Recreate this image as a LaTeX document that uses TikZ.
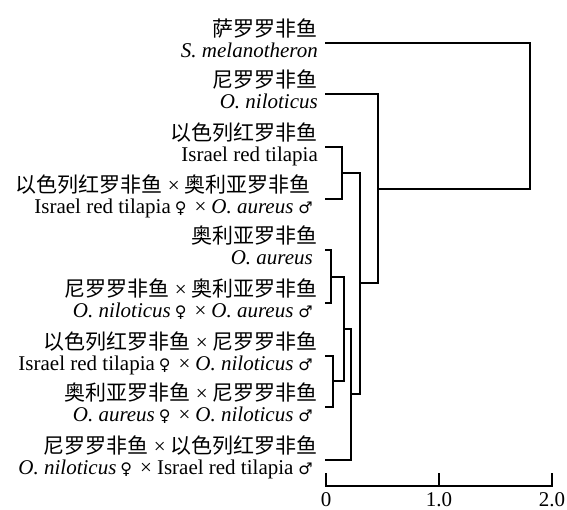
\documentclass[tikz,border=0pt]{standalone}
\usepackage{fontspec}
\setmainfont{Liberation Serif}
\newfontfamily\cjk{Noto Sans CJK SC}
\newfontfamily\sym{DejaVu Sans}
\usetikzlibrary{positioning}

\tikzset{
  branch/.style={line width=2pt},
  cnlabel/.style={anchor=base east, inner sep=0pt, font=\cjk\fontsize{21}{21}\selectfont},
  lalabel/.style={anchor=base east, inner sep=0pt, font=\fontsize{21}{21}\selectfont},
  numlabel/.style={anchor=base, inner sep=0pt, text depth=0pt, font=\fontsize{21}{21}\selectfont},
}
\newcommand{\crs}{\hspace{5pt}{\fontfamily{\rmdefault}\selectfont ×}\hspace{5pt}}
\newcommand{\xx}{\hspace{8pt}×\hspace{5pt}}
\newcommand{\fem}{\hspace{4pt}{\sym\fontsize{16}{16}\selectfont ♀}}
\newcommand{\mal}{\hspace{5pt}{\sym\fontsize{16}{16}\selectfont ♂}}

\begin{document}
\begin{tikzpicture}[x=1pt, y=-1pt]
    \useasboundingbox (0,0) rectangle (567,509);

    % leaf tips
    \coordinate (t1) at (325,43);
    \coordinate (t2) at (325,94);
    \coordinate (t3) at (325,147);
    \coordinate (t4) at (325,199);
    \coordinate (t5) at (325,250);
    \coordinate (t6) at (325,303);
    \coordinate (t7) at (325,356);
    \coordinate (t8) at (325,407);
    \coordinate (t9) at (325,460);

    % labels
    \node[cnlabel] (cn1) at ([xshift=-7pt, yshift=7pt]t1) {萨罗罗非鱼};
    \node[lalabel] (la1) at ([xshift=-7pt, yshift=-14pt]t1) {\textit{S. melanotheron}};
    \node[cnlabel] (cn2) at ([xshift=-7pt, yshift=7pt]t2) {尼罗罗非鱼};
    \node[lalabel] (la2) at ([xshift=-7pt, yshift=-14pt]t2) {\textit{O. niloticus}};
    \node[cnlabel] (cn3) at ([xshift=-7pt, yshift=7pt]t3) {以色列红罗非鱼};
    \node[lalabel] (la3) at ([xshift=-7pt, yshift=-14pt]t3) {Israel red tilapia};
    \node[cnlabel] (cn4) at ([xshift=-14pt, yshift=7pt]t4) {以色列红罗非鱼\crs 奥利亚罗非鱼};
    \node[lalabel] (la4) at ([xshift=-12pt, yshift=-14pt]t4) {Israel red tilapia\fem\xx\textit{O. aureus}\mal};
    \node[cnlabel] (cn5) at ([xshift=-7pt, yshift=7pt]t5) {奥利亚罗非鱼};
    \node[lalabel] (la5) at ([xshift=-12pt, yshift=-14pt]t5) {\textit{O. aureus}};
    \node[cnlabel] (cn6) at ([xshift=-7pt, yshift=7pt]t6) {尼罗罗非鱼\crs 奥利亚罗非鱼};
    \node[lalabel] (la6) at ([xshift=-12pt, yshift=-14pt]t6) {\textit{O. niloticus}\fem\xx\textit{O. aureus}\mal};
    \node[cnlabel] (cn7) at ([xshift=-7pt, yshift=7pt]t7) {以色列红罗非鱼\crs 尼罗罗非鱼};
    \node[lalabel] (la7) at ([xshift=-12pt, yshift=-14pt]t7) {Israel red tilapia\fem\xx\textit{O. niloticus}\mal};
    \node[cnlabel] (cn8) at ([xshift=-7pt, yshift=7pt]t8) {奥利亚罗非鱼\crs 尼罗罗非鱼};
    \node[lalabel] (la8) at ([xshift=-12pt, yshift=-14pt]t8) {\textit{O. aureus}\fem\xx\textit{O. niloticus}\mal};
    \node[cnlabel] (cn9) at ([xshift=-7pt, yshift=7pt]t9) {尼罗罗非鱼\crs 以色列红罗非鱼};
    \node[lalabel] (la9) at ([xshift=-12pt, yshift=-14pt]t9) {\textit{O. niloticus}\fem\xx Israel red tilapia\mal};

    % merge points
    \coordinate (mIsr) at (342,173);
    \coordinate (mE) at (331,277);
    \coordinate (mF) at (333,381);
    \coordinate (mD) at (344,329);
    \coordinate (mC) at (351,394);
    \coordinate (mB) at (360,283);
    \coordinate (mA) at (378,189);
    \coordinate (mR) at (530,116);

    \draw[branch] (t3) -| (mIsr) |- (t4);
    \draw[branch] (t5) -| (mE) |- (t6);
    \draw[branch] (t7) -| (mF) |- (t8);
    \draw[branch] (mE) -| (mD) |- (mF);
    \draw[branch] (mD) -| (mC) |- (t9);
    \draw[branch] (mIsr) -| (mB) |- (mC);
    \draw[branch] (t2) -| (mA) |- (mB);
    \draw[branch] (t1) -| (mR) |- (mA);

    % scale
    \coordinate (a0) at (326,486);
    \coordinate (a1) at (439,486);
    \coordinate (a2) at (552,486);
    \draw[branch] ([yshift=13pt]a0) -- (a0) -- (a2) -- ([yshift=13pt]a2);
    \draw[branch] (a1) -- ([yshift=13pt]a1);
    \node[numlabel] (n0) at ([yshift=-20pt]a0) {0};
    \node[numlabel] (n1) at ([yshift=-20pt]a1) {1.0};
    \node[numlabel] (n2) at ([yshift=-20pt]a2) {2.0};
\end{tikzpicture}
\end{document}
